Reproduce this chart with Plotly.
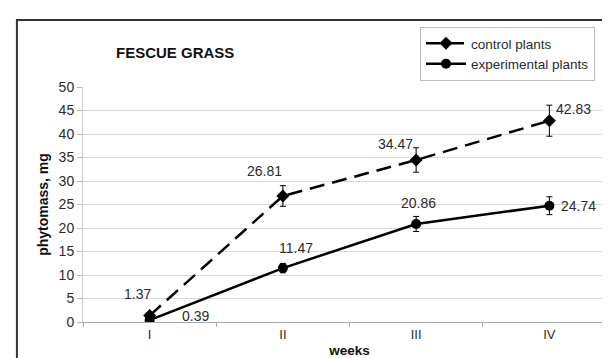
import plotly.graph_objects as go

weeks = ["I", "II", "III", "IV"]
control = [1.37, 26.81, 34.47, 42.83]
control_err = [0.5, 2.2, 2.6, 3.3]
experimental = [0.39, 11.47, 20.86, 24.74]
experimental_err = [0.3, 1.0, 1.6, 1.9]
y_ticks = [0, 5, 10, 15, 20, 25, 30, 35, 40, 45, 50]

FONT = "Liberation Sans, Arial, sans-serif"
TXT = "#2b2b2b"

fig = go.Figure()
fig.add_trace(go.Scatter(
    x=weeks, y=control, name="control plants", mode="lines+markers",
    line=dict(color="black", width=2.5, dash="15px,8px"),
    marker=dict(symbol="diamond", size=10, color="black"),
    error_y=dict(type="data", array=control_err, color="black", thickness=1, width=3),
))
fig.add_trace(go.Scatter(
    x=weeks, y=experimental, name="experimental plants", mode="lines+markers",
    line=dict(color="black", width=2.5),
    marker=dict(symbol="circle", size=10, color="black"),
    error_y=dict(type="data", array=experimental_err, color="black", thickness=1, width=3),
))

c_off = [(-12, 22), (-18, 25), (-21, 16), (24, 12)]
e_off = [(46, 4), (13, 20), (2, 21), (29, 0)]
for w, v, (dx, dy) in zip(weeks, control, c_off):
    fig.add_annotation(x=w, y=v, text=f"{v:.2f}", showarrow=False, xshift=dx, yshift=dy,
                       font=dict(family=FONT, size=14, color=TXT))
for w, v, (dx, dy) in zip(weeks, experimental, e_off):
    fig.add_annotation(x=w, y=v, text=f"{v:.2f}", showarrow=False, xshift=dx, yshift=dy,
                       font=dict(family=FONT, size=14, color=TXT))

fig.add_shape(type="rect", xref="paper", yref="paper",
              x0=-0.124, x1=1.2, y0=-0.4, y1=1.285,
              line=dict(color="#333333", width=2), fillcolor="rgba(0,0,0,0)", layer="above")

fig.update_layout(
    width=610, height=358,
    margin=dict(l=75, r=2, t=79, b=44),
    paper_bgcolor="white", plot_bgcolor="white",
    font=dict(family=FONT, size=14, color=TXT),
    title=dict(text="<b>FESCUE GRASS</b>", x=(108 - 75) / 533, xref="paper", xanchor="left",
               y=1 - 45 / 358, yref="container", yanchor="middle",
               font=dict(family=FONT, size=15, color="#111")),
    showlegend=True,
    legend=dict(x=(412 - 75) / 533, y=(314 - 19) / 235, xanchor="left", yanchor="top",
                bgcolor="white", bordercolor="#bbbbbb", borderwidth=1,
                font=dict(family=FONT, size=13.5, color=TXT), tracegroupgap=0,
                itemwidth=40),
    xaxis=dict(type="category", range=[-0.5, 3.5], tickson="boundaries",
               ticks="outside", ticklen=4, tickcolor="#aaaaaa",
               showline=True, linecolor="#aaaaaa", linewidth=1, showgrid=False,
               title=dict(text="<b>weeks</b>", font=dict(size=13.5, color="#111"), standoff=4),
               tickfont=dict(size=13)),
    yaxis=dict(range=[0, 50], tickvals=y_ticks, ticks="outside", ticklen=5, tickcolor="#bbbbbb",
               showline=True, linecolor="#cccccc", gridcolor="#d9d9d9", zeroline=False,
               title=dict(text="<b>phytomass, mg</b>", font=dict(size=14, color="#111"), standoff=6),
               tickfont=dict(size=14)),
)

fig.write_html("out.html")
